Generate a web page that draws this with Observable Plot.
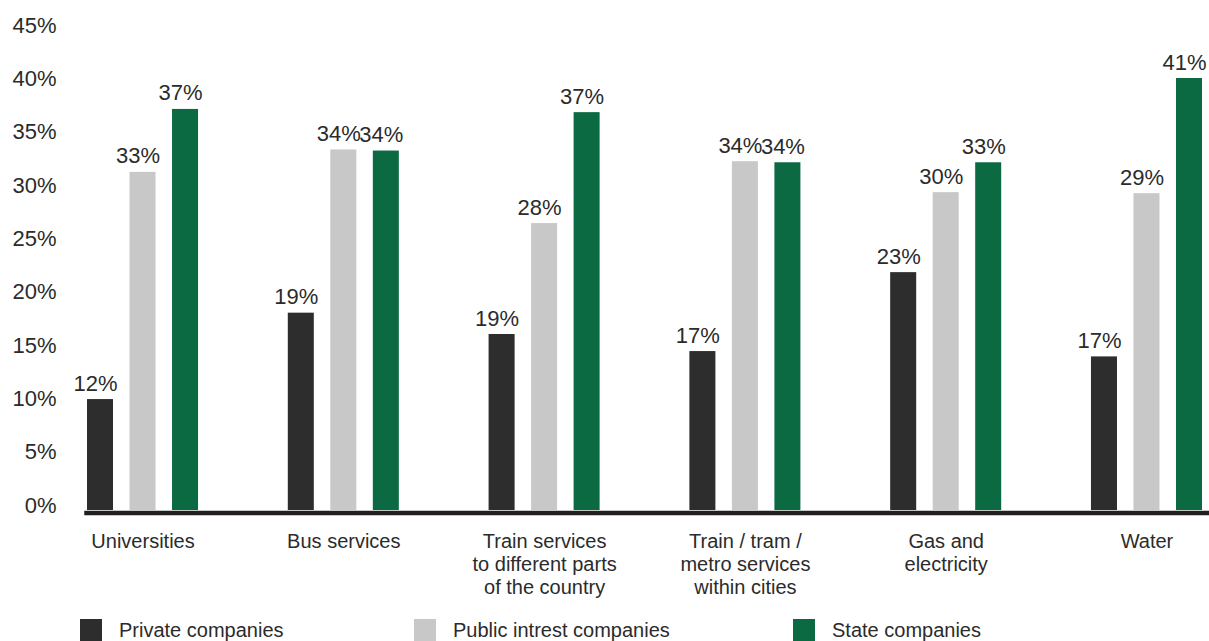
<!DOCTYPE html>
<html>
<head>
<meta charset="utf-8">
<script src="https://cdn.jsdelivr.net/npm/d3@7"></script>
<script src="https://cdn.jsdelivr.net/npm/@observablehq/plot@0.6"></script>
<style>
  html, body { margin: 0; padding: 0; background: #ffffff; }
  body { font-family: "Liberation Sans", Arial, Helvetica, sans-serif; width: 1209px; height: 641px; overflow: hidden; position: relative; }
  #legend { position: relative; height: 29px; color: #2b2b2b; font-size: 20px; }
  .item { position: absolute; top: 7px; display: flex; align-items: flex-start; }
  .swatch { width: 22px; height: 22px; margin-right: 17px; }
  .item span { line-height: 22px; position: relative; top: 0px; }
</style>
</head>
<body>
<div id="chart"></div>
<div id="legend"></div>
<script>
const categories = [
  "Universities",
  "Bus services",
  "Train services\nto different parts\nof the country",
  "Train / tram /\nmetro services\nwithin cities",
  "Gas and\nelectricity",
  "Water"
];
const series = ["Private companies", "Public intrest companies", "State companies"];
const seriesColors = ["#2d2d2d", "#c8c8c8", "#0c6a43"];

// bar heights as drawn in the picture (percent)
const privateBars = [10.4, 18.5, 16.5, 14.9, 22.3, 14.4];
const publicBars  = [31.7, 33.8, 26.9, 32.7, 29.8, 29.7];
const stateBars   = [37.6, 33.7, 37.3, 32.6, 32.6, 40.5];

// value labels as printed
const privateLabels = ["12%", "19%", "19%", "17%", "23%", "17%"];
const publicLabels  = ["33%", "34%", "28%", "34%", "30%", "29%"];
const stateLabels   = ["37%", "34%", "37%", "34%", "33%", "41%"];

const yTicks = [0, 5, 10, 15, 20, 25, 30, 35, 40, 45];

const bars = [privateBars, publicBars, stateBars];
const labels = [privateLabels, publicLabels, stateLabels];
const rows = [];
categories.forEach((c, i) => {
  series.forEach((s, j) => {
    rows.push({category: c, series: s, bar: bars[j][i], label: labels[j][i]});
  });
});

const textColor = "#2b2b2b";

const chart = Plot.plot({
  width: 1209,
  height: 612,
  marginTop: 30,
  marginBottom: 102,
  marginLeft: 87,
  marginRight: 7,
  style: {fontFamily: "'Liberation Sans', Arial, sans-serif", color: textColor, background: "#ffffff"},
  fx: {domain: categories, paddingInner: 0.447, paddingOuter: 0, round: false, label: null, axis: null},
  x: {domain: series, paddingInner: 0.388, paddingOuter: 0, round: false, axis: null},
  y: {domain: [0, 45], axis: null},
  color: {domain: series, range: seriesColors},
  marks: [
    Plot.axisY({ticks: yTicks, tickFormat: d => d + "%", tickSize: 0, tickPadding: 31, fontSize: 22, dy: -5, label: null, fill: textColor}),
    Plot.axisFx({anchor: "bottom", tickSize: 0, tickPadding: 21, fontSize: 20, lineHeight: 1.15, label: null, fill: textColor}),
    Plot.barY(rows, {fx: "category", x: "series", y: "bar", fill: "series"}),
    Plot.text(rows, {fx: "category", x: "series", y: "bar", text: "label", lineAnchor: "bottom", dy: -9, dx: -5, fontSize: 22, fill: textColor}),
    Plot.frame({facet: "super", anchor: "bottom", stroke: "#231f20", strokeWidth: 4.5, dy: 2.5, insetLeft: -1, insetRight: -5})
  ]
});
document.getElementById("chart").appendChild(chart);

const legendLefts = [80, 414, 793];
const legend = document.getElementById("legend");
series.forEach((s, i) => {
  const item = document.createElement("div");
  item.className = "item";
  item.style.left = legendLefts[i] + "px";
  const sw = document.createElement("div");
  sw.className = "swatch";
  sw.style.background = seriesColors[i];
  const t = document.createElement("span");
  t.textContent = s;
  item.appendChild(sw);
  item.appendChild(t);
  legend.appendChild(item);
});
</script>
</body>
</html>
